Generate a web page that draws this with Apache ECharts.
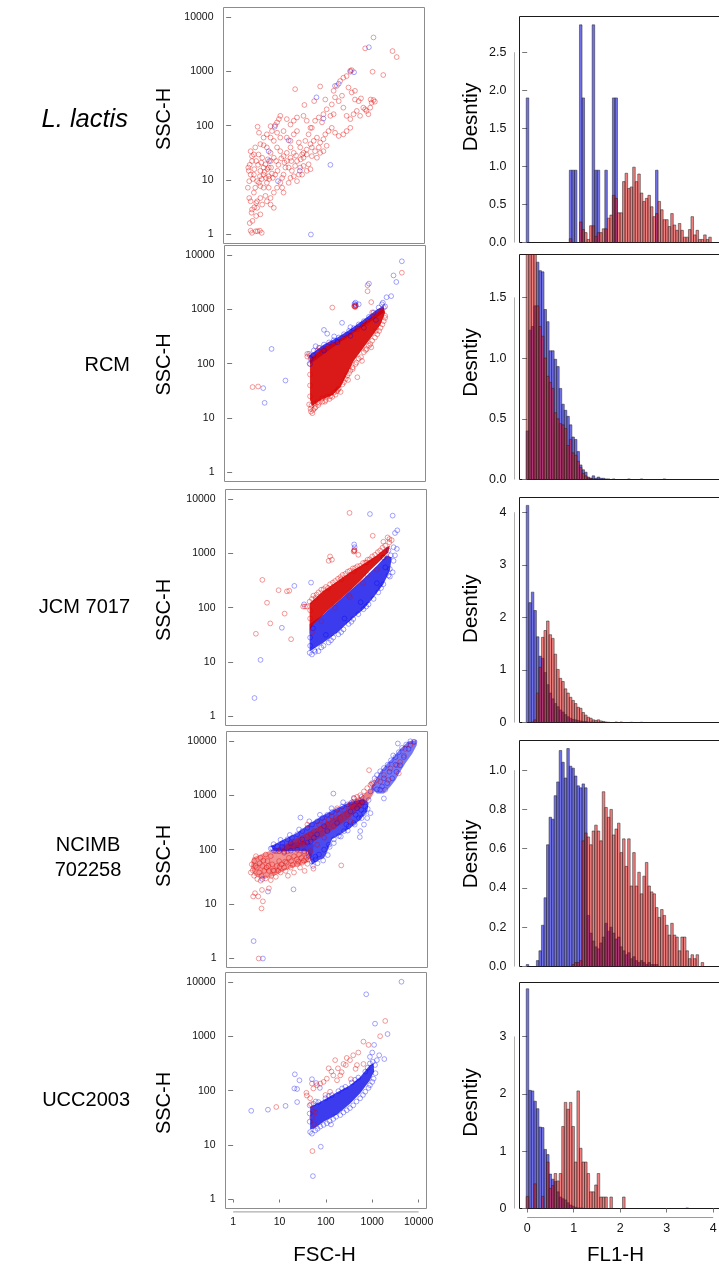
<!DOCTYPE html>
<html>
<head>
<meta charset="utf-8">
<title>FSC/SSC scatter and FL1-H density</title>
<script src="https://cdn.jsdelivr.net/npm/echarts@6/dist/echarts.min.js"></script>
<style>
  html, body { margin: 0; padding: 0; background: #fff; }
  #chart { width: 719px; height: 1273px; }
</style>
</head>
<body>
<div id="chart"></div>
<script>
// ---- data: scatter points are [log10 FSC-H, log10 SSC-H] ----
const decadeTicks = [0, 1, 2, 3, 4];
const flTicks = [0, 1, 2, 3, 4];

const lactisRed = [[0.42,0.07],[0.45,0.03],[0.53,0.06],[0.57,0.06],[0.62,0.07],[0.66,0.03],[0.40,0.21],[0.46,0.25],[0.44,0.40],[0.50,0.50],[0.54,0.58],[0.39,0.67],[0.36,0.86],[0.39,0.98],[0.42,1.10],[0.37,1.23],[0.40,1.28],[0.42,1.53],[0.45,1.44],[0.50,1.20],[0.54,1.35],[0.59,1.47],[0.57,1.98],[0.60,1.87],[0.52,1.60],[0.70,1.64],[0.77,1.60],[0.67,1.41],[0.74,1.29],[0.79,1.38],[0.85,1.50],[0.86,1.23],[0.92,1.41],[0.97,1.35],[1.00,1.17],[0.95,1.10],[0.90,1.04],[0.81,1.07],[0.70,1.10],[0.63,1.17],[0.56,0.98],[0.63,0.89],[0.70,0.86],[0.77,0.95],[0.81,0.86],[0.74,0.71],[0.63,0.67],[0.56,0.61],[0.67,0.55],[0.85,0.67],[0.92,0.77],[0.99,0.86],[1.06,0.95],[1.10,1.04],[1.13,1.10],[1.17,1.23],[1.20,1.35],[1.13,1.44],[1.06,1.53],[0.99,1.60],[0.92,1.72],[0.85,1.78],[0.88,1.90],[0.95,2.01],[1.03,2.12],[1.06,2.18],[1.13,1.90],[1.20,1.78],[1.28,1.72],[1.35,1.84],[1.42,1.90],[1.46,1.69],[1.49,1.60],[1.53,1.47],[1.56,1.41],[1.35,1.50],[1.28,1.41],[1.24,1.23],[1.31,1.17],[1.38,1.26],[1.42,1.35],[1.49,1.23],[1.46,1.10],[1.35,1.07],[1.56,1.50],[1.63,1.56],[1.71,1.66],[1.78,1.72],[1.85,1.78],[1.92,1.69],[1.89,1.60],[1.81,1.53],[1.74,1.44],[1.67,1.29],[1.63,1.47],[1.60,1.72],[1.67,1.84],[1.74,1.96],[1.81,2.09],[1.89,2.15],[1.96,2.06],[1.99,2.21],[2.06,2.30],[2.14,2.18],[2.21,2.21],[2.17,2.39],[2.24,2.52],[2.21,2.64],[2.28,2.73],[2.35,2.82],[2.42,2.88],[2.49,2.91],[2.57,3.01],[2.60,3.02],[2.53,2.70],[2.39,2.55],[2.32,2.45],[2.42,2.33],[2.49,2.18],[2.57,2.12],[2.64,2.21],[2.71,2.27],[2.75,2.45],[2.67,2.48],[2.60,2.61],[2.67,2.64],[2.80,2.50],[2.85,2.33],[2.92,2.27],[2.96,2.21],[3.00,2.33],[3.03,2.42],[3.07,2.47],[3.10,2.44],[3.01,2.48],[2.89,2.30],[2.78,2.18],[2.57,1.96],[2.49,1.90],[2.42,1.84],[2.32,1.81],[2.24,1.87],[2.17,1.96],[2.10,1.90],[2.03,1.84],[1.99,1.75],[2.06,1.63],[1.99,1.53],[1.92,1.50],[1.85,1.41],[1.71,1.96],[1.63,2.09],[1.56,2.18],[1.42,2.15],[1.35,2.09],[1.38,2.67],[1.58,2.38],[1.92,2.72],[1.79,2.45],[2.03,2.48],[3.28,2.93],[3.05,2.99],[2.89,3.42],[3.07,3.62],[3.48,3.37],[3.57,3.26],[1.20,2.12],[1.28,2.02],[0.99,1.87],[1.06,1.78],[0.77,1.84],[0.70,1.78],[0.63,1.66],[0.49,1.47],[0.45,1.35],[0.38,1.17],[0.49,1.10],[0.52,0.86],[0.49,0.77],[0.42,0.61],[0.45,0.46],[0.56,0.49],[0.63,0.37],[0.54,0.34],[0.77,0.61],[0.85,0.55],[0.92,0.49],[1.10,0.86],[1.13,0.77],[1.24,0.95],[1.28,1.04],[1.42,0.98],[1.53,1.10],[1.63,1.17],[1.56,1.26],[1.71,1.20],[1.74,1.60],[0.85,1.99],[0.99,2.06],[1.28,1.60],[1.20,1.50],[0.81,1.23],[0.85,1.35],[0.70,1.23],[0.62,1.07],[0.75,1.04],[0.72,1.15],[0.78,1.20],[0.88,1.12],[0.66,1.02],[0.60,0.95],[0.82,1.02],[1.02,1.28],[1.08,1.40],[1.15,1.32],[1.30,1.35],[1.40,1.45],[1.50,1.38],[0.58,1.28],[0.65,1.32],[0.47,1.02]];
const lactisBlue = [[2.97,3.44],[2.65,2.98],[2.57,2.99],[2.24,2.73],[2.32,2.77],[1.84,2.52],[1.99,2.13],[0.94,1.98],[0.81,1.53],[1.24,1.73],[1.48,1.17],[2.14,1.28],[1.72,0.0],[0.82,1.35],[1.01,0.98]];

const rcmBlueCore = [[1.66,2.15],[1.98,2.35],[2.27,2.48],[2.55,2.63],[2.84,2.81],[3.13,3.00],[3.27,3.06],[3.27,2.94],[2.84,2.69],[2.27,2.36],[1.68,1.99]];
const rcmRedCore = [[1.68,2.09],[1.98,2.30],[2.27,2.42],[2.55,2.57],[2.84,2.75],[3.13,2.94],[3.27,3.03],[3.30,2.94],[3.20,2.72],[3.05,2.54],[2.84,2.30],[2.62,2.05],[2.48,1.81],[2.34,1.57],[2.16,1.42],[1.91,1.33],[1.73,1.22],[1.68,1.33]];
const rcmRed = [[0.44,1.57],[0.56,1.58],[2.16,3.03],[1.62,2.13],[1.62,2.18],[2.92,3.44],[2.92,3.33],[3.00,3.13],[3.66,3.67],[1.89,2.29],[3.27,3.03],[3.30,2.88],[3.20,2.97],[3.02,2.94],[1.73,1.09],[1.69,1.17],[1.76,1.26],[1.84,1.29],[1.94,1.36],[2.05,1.39],[2.23,1.43],[2.16,1.39],[2.30,1.54],[2.41,1.66],[2.48,1.78],[2.55,1.87],[2.66,1.99],[2.73,2.09],[2.84,2.21],[2.95,2.33],[3.02,2.42],[3.13,2.54],[3.20,2.66],[3.27,2.78],[2.70,1.75],[2.34,1.48],[1.71,1.23],[1.68,2.15],[1.84,2.24],[2.12,2.36],[2.41,2.48],[2.70,2.63],[2.91,2.75],[3.13,2.91],[2.64,3.05],[2.66,3.06],[2.65,3.04],[2.63,3.06],[2.66,3.05],[1.75,1.15],[1.80,1.20],[2.00,1.30],[2.10,1.35],[2.60,1.93],[2.90,2.27],[3.10,2.60],[1.68,1.40],[1.68,1.60],[1.68,1.80],[1.67,2.00],[1.66,1.25],[1.70,1.12],[1.78,1.18],[1.86,1.24],[1.95,1.30],[2.02,1.33],[2.12,1.40],[2.20,1.47],[2.28,1.52],[2.38,1.62],[2.45,1.72],[2.52,1.82],[2.60,1.90],[2.68,2.02],[2.78,2.12],[2.88,2.25],[2.98,2.36],[3.08,2.48],[3.17,2.60],[3.24,2.72],[3.30,2.84],[1.88,1.28],[2.26,1.49],[2.50,1.70],[2.80,2.05],[3.00,2.30]];
const rcmBlue = [[0.85,2.27],[1.15,1.69],[0.67,1.55],[0.70,1.28],[3.66,3.88],[3.48,3.62],[3.54,3.50],[2.95,3.47],[2.66,3.12],[2.73,3.09],[3.33,3.22],[3.43,3.24],[3.25,3.12],[2.37,2.75],[1.98,2.62],[2.05,2.55],[2.55,2.67],[1.66,2.18],[1.76,2.24],[1.87,2.29],[1.98,2.35],[2.09,2.39],[2.19,2.43],[2.30,2.48],[2.41,2.54],[2.52,2.60],[2.62,2.65],[2.73,2.72],[2.84,2.78],[2.95,2.86],[3.05,2.94],[3.16,3.03],[3.23,3.09],[1.69,2.09],[1.68,1.99],[1.75,2.15],[1.98,2.24],[2.27,2.39],[2.55,2.51],[2.84,2.66],[2.65,3.08],[2.64,3.10],[2.67,3.07],[3.30,3.05],[3.10,2.80],[2.20,2.50],[1.80,2.32]];

const jcmBlueCore = [[1.65,1.70],[1.95,1.88],[2.24,2.10],[2.52,2.31],[2.81,2.53],[3.10,2.77],[3.31,2.96],[3.42,2.92],[3.38,2.68],[3.24,2.43],[3.03,2.19],[2.81,1.97],[2.52,1.76],[2.24,1.54],[1.95,1.36],[1.73,1.24],[1.65,1.20]];
const jcmRedCore = [[1.65,2.08],[1.95,2.31],[2.24,2.48],[2.52,2.65],[2.81,2.80],[3.10,2.96],[3.31,3.11],[3.38,3.14],[3.35,3.02],[3.17,2.86],[2.95,2.68],[2.74,2.49],[2.52,2.31],[2.24,2.10],[1.95,1.88],[1.73,1.70],[1.65,1.57]];
const jcmRed = [[2.51,3.74],[3.01,3.32],[0.63,2.51],[0.73,2.09],[0.98,2.32],[1.16,2.30],[1.21,2.31],[1.11,1.89],[0.80,1.71],[0.49,1.52],[1.25,1.42],[2.09,2.94],[2.13,2.88],[2.06,2.86],[1.51,2.02],[1.55,2.02],[3.24,3.21],[3.33,3.29],[3.37,3.26],[2.70,2.97],[1.59,2.02],[1.65,2.11],[1.73,2.22],[1.84,2.28],[1.95,2.34],[2.09,2.43],[2.20,2.49],[2.31,2.56],[2.42,2.62],[2.52,2.68],[2.63,2.73],[2.74,2.77],[2.85,2.83],[2.95,2.89],[3.06,2.97],[3.17,3.05],[3.28,3.14],[3.37,3.20],[3.42,3.24],[2.52,2.19],[2.61,3.04],[2.62,3.05],[2.60,3.03],[2.61,3.06],[1.66,1.80],[1.66,1.95],[1.70,1.55],[1.90,1.75],[2.20,2.00],[2.50,2.22],[2.80,2.45],[3.10,2.70],[3.30,2.95],[2.90,2.60],[1.70,2.16],[1.80,2.24],[1.90,2.33],[2.00,2.38],[2.15,2.46],[2.26,2.53],[2.36,2.60],[2.47,2.66],[2.58,2.72],[2.68,2.76],[2.80,2.82],[2.90,2.88],[3.00,2.94],[3.12,3.02],[3.22,3.10],[1.78,2.18],[2.05,2.36],[2.33,2.52],[2.60,2.67],[2.88,2.83]];
const jcmBlue = [[2.95,3.72],[3.44,3.69],[3.54,3.42],[3.49,3.37],[3.46,3.11],[3.38,2.57],[2.61,3.16],[2.62,3.11],[1.32,2.40],[1.68,2.46],[1.53,2.06],[1.05,1.63],[0.59,1.04],[0.46,0.34],[1.65,1.17],[1.70,1.14],[1.77,1.19],[1.84,1.20],[1.95,1.30],[2.06,1.36],[2.16,1.45],[2.27,1.51],[2.38,1.60],[2.49,1.70],[2.59,1.79],[2.70,1.88],[2.81,1.97],[2.92,2.06],[3.03,2.16],[3.13,2.28],[3.24,2.43],[3.35,2.59],[3.38,2.71],[3.46,2.86],[3.49,2.96],[3.53,3.08],[3.40,2.96],[3.24,2.92],[3.35,3.05],[3.28,2.74],[3.44,2.65],[1.66,1.30],[1.66,1.45],[1.72,1.62],[2.00,1.50],[2.40,1.80],[2.75,2.10],[3.10,2.45],[1.75,1.22],[1.90,1.27],[2.11,1.40],[2.33,1.55],[2.55,1.74],[2.87,2.02],[3.19,2.36]];

const ncimbRedLowCore = [[0.39,1.85],[0.65,1.94],[0.93,2.03],[1.22,2.12],[1.51,2.15],[1.72,2.09],[1.68,1.88],[1.58,1.76],[1.36,1.70],[1.08,1.61],[0.86,1.52],[0.65,1.46],[0.44,1.52],[0.36,1.67]];
const ncimbBlueCore = [[0.79,2.06],[1.08,2.19],[1.36,2.31],[1.65,2.49],[1.94,2.64],[2.22,2.76],[2.51,2.88],[2.80,2.93],[2.90,2.85],[2.87,2.70],[2.72,2.55],[2.51,2.40],[2.29,2.28],[2.11,2.19],[2.01,1.97],[1.94,1.85],[1.79,1.79],[1.68,1.73],[1.63,1.85],[1.58,1.97],[1.36,1.98],[1.08,1.97],[0.86,1.97]];
const ncimbRedMidCore = [[1.08,2.09],[1.43,2.25],[1.79,2.40],[2.22,2.61],[2.58,2.82],[2.80,2.91],[2.76,2.79],[2.44,2.55],[2.08,2.34],[1.72,2.15],[1.36,2.03],[1.08,1.97]];
const ncimbRedPatchCore = [[2.44,2.79],[2.65,2.91],[2.87,3.07],[3.00,3.16],[3.03,3.07],[2.94,2.94],[2.80,2.82],[2.58,2.73]];
const ncimbBlueTopCore = [[2.95,3.13],[3.05,3.28],[3.15,3.43],[3.30,3.58],[3.44,3.70],[3.58,3.85],[3.76,3.99],[3.93,4.01],[3.94,3.92],[3.84,3.76],[3.69,3.58],[3.58,3.43],[3.48,3.28],[3.37,3.16],[3.23,3.03],[3.08,3.03]];
const ncimbRed = [[0.38,1.73],[0.43,1.79],[0.49,1.67],[0.54,1.58],[0.59,1.52],[0.65,1.61],[0.70,1.67],[0.75,1.61],[0.80,1.52],[0.86,1.61],[0.92,1.70],[0.97,1.79],[1.02,1.73],[1.08,1.67],[1.13,1.76],[1.18,1.85],[1.23,1.79],[1.29,1.88],[1.35,1.82],[1.40,1.91],[1.45,1.85],[1.51,1.94],[1.56,1.85],[1.61,1.94],[0.43,1.52],[0.50,1.46],[0.57,1.43],[0.68,1.47],[0.79,1.44],[0.90,1.50],[1.00,1.58],[1.11,1.61],[1.22,1.67],[1.36,1.73],[1.47,1.76],[1.58,1.74],[0.36,1.58],[0.47,1.88],[0.57,1.85],[0.68,1.91],[0.79,1.88],[0.90,1.97],[1.00,2.00],[1.08,1.94],[0.72,1.79],[0.82,1.73],[0.61,1.70],[0.95,1.61],[1.16,1.52],[1.29,1.58],[1.42,1.67],[1.52,1.61],[0.41,1.14],[0.52,1.14],[0.59,0.92],[0.75,1.29],[0.53,0.0],[2.31,1.71],[1.71,1.65],[2.91,3.46],[0.45,1.20],[0.62,1.05],[0.60,1.26],[1.22,2.09],[1.43,2.15],[1.58,2.25],[1.72,2.34],[1.83,2.46],[1.94,2.52],[2.04,2.55],[2.11,2.61],[2.19,2.58],[2.26,2.67],[2.37,2.73],[2.47,2.79],[2.58,2.88],[2.65,2.97],[2.72,3.00],[2.80,3.07],[2.87,3.13],[2.94,3.19],[3.01,3.22],[2.59,2.94],[2.69,2.91],[2.51,2.85],[1.65,1.97],[1.79,2.09],[1.94,2.22],[1.51,2.09],[1.36,2.03],[1.58,2.46],[1.65,2.28],[1.86,2.37],[2.01,2.46],[2.15,2.43],[2.29,2.58],[2.44,2.64],[1.36,2.12],[1.15,1.97],[2.51,2.52],[2.22,2.76],[3.23,3.37],[3.37,3.49],[3.51,3.55],[3.66,3.73],[3.80,3.92],[3.87,3.98],[3.58,3.61],[3.33,3.28],[3.15,3.25],[3.26,3.10],[3.55,3.40],[3.69,3.85],[3.08,3.28],[2.98,3.20],[0.40,1.62],[0.46,1.70],[0.55,1.75],[0.63,1.80],[0.74,1.70],[0.84,1.62],[0.98,1.68],[1.10,1.78],[1.26,1.72],[1.38,1.78],[1.50,1.80],[1.60,1.82]];
const ncimbBlue = [[0.82,2.03],[0.93,2.06],[1.04,2.12],[1.15,2.19],[1.25,2.22],[1.36,2.28],[1.47,2.34],[1.58,2.40],[1.68,2.46],[1.79,2.52],[1.90,2.58],[2.01,2.64],[2.11,2.69],[2.22,2.73],[2.33,2.79],[2.44,2.83],[2.54,2.87],[2.65,2.88],[2.76,2.87],[2.83,2.79],[2.80,2.67],[2.69,2.58],[2.58,2.49],[2.47,2.43],[2.37,2.34],[2.26,2.25],[2.15,2.19],[2.04,2.09],[1.94,2.00],[1.83,1.91],[1.76,1.82],[1.68,1.78],[1.61,1.88],[1.51,1.97],[1.36,2.00],[1.22,1.98],[1.08,1.96],[0.97,1.97],[0.86,1.98],[0.79,2.02],[2.51,2.70],[1.79,2.28],[2.22,2.49],[2.65,2.76],[1.65,2.15],[2.01,2.34],[1.94,2.43],[1.72,2.22],[1.47,2.19],[1.22,2.12],[1.04,2.05],[1.58,2.13],[2.42,2.46],[2.62,2.64],[2.74,2.73],[2.90,2.91],[2.94,3.07],[2.80,2.46],[2.87,2.58],[2.94,2.67],[2.72,2.34],[2.97,3.22],[3.03,3.31],[3.08,3.37],[3.15,3.44],[3.23,3.50],[3.31,3.56],[3.38,3.64],[3.48,3.70],[3.55,3.79],[3.62,3.87],[3.71,3.93],[3.80,3.99],[3.89,3.98],[3.76,3.85],[3.66,3.70],[3.58,3.55],[3.50,3.43],[3.41,3.31],[3.30,3.22],[3.19,3.16],[3.08,3.11],[3.23,3.31],[3.35,3.43],[3.48,3.56],[3.15,3.10],[3.43,3.73],[3.53,3.95],[3.23,2.94],[0.42,0.32],[0.62,0.0],[0.73,1.23],[1.28,1.27],[2.14,3.03],[2.71,2.23],[1.43,2.59],[0.61,1.46],[1.75,1.87],[1.70,1.70],[1.80,1.75],[1.92,1.80],[2.02,1.90],[2.06,2.05],[2.15,2.12],[2.30,2.24],[2.45,2.35],[2.60,2.46],[2.75,2.58],[2.88,2.75],[0.85,2.10],[1.00,2.18],[1.20,2.27],[1.40,2.37],[1.62,2.52],[1.85,2.64],[2.10,2.76],[2.35,2.87],[2.58,2.95],[2.75,2.97]];

const uccBlueCore = [[1.66,1.70],[1.95,1.83],[2.24,1.97],[2.52,2.10],[2.74,2.25],[2.95,2.47],[3.03,2.50],[3.04,2.35],[2.95,2.19],[2.74,1.95],[2.52,1.76],[2.24,1.56],[1.95,1.43],[1.73,1.30],[1.66,1.29]];
const uccBlue = [[1.65,1.73],[1.73,1.76],[1.84,1.79],[1.99,1.86],[2.13,1.92],[2.27,1.99],[2.42,2.07],[2.56,2.15],[2.70,2.24],[2.85,2.35],[2.95,2.50],[3.01,2.53],[3.06,2.47],[1.66,1.24],[1.77,1.27],[1.88,1.34],[2.02,1.40],[2.16,1.48],[2.31,1.55],[2.45,1.64],[2.59,1.73],[2.74,1.86],[2.85,1.98],[2.95,2.10],[3.03,2.22],[1.65,1.43],[1.65,1.58],[3.63,4.00],[2.87,3.77],[3.06,3.23],[3.33,3.04],[3.04,2.84],[3.15,2.65],[3.26,2.58],[3.10,2.56],[1.33,2.30],[1.43,2.19],[1.38,2.03],[1.32,2.04],[0.39,1.63],[1.13,1.72],[1.72,0.43],[1.89,0.97],[2.11,1.38],[1.70,2.21],[1.79,2.14],[1.38,1.79],[1.87,2.05],[0.75,1.65],[2.95,2.62],[3.00,2.70],[1.70,1.21],[1.82,1.30],[1.95,1.37],[2.08,1.44],[2.22,1.52],[2.38,1.60],[2.52,1.68],[2.66,1.80],[2.80,1.92],[2.92,2.05],[3.00,2.16],[3.07,2.32],[1.78,1.80],[2.06,1.90],[2.35,2.04],[2.63,2.20],[2.90,2.42]];
const uccRed = [[0.93,1.70],[1.58,1.96],[1.71,0.89],[3.17,3.00],[3.28,3.28],[2.81,2.90],[2.92,2.84],[2.81,2.49],[2.67,2.47],[2.59,2.65],[2.52,2.56],[2.38,2.49],[2.43,2.47],[2.26,2.41],[2.31,2.28],[2.34,2.34],[2.16,2.28],[2.06,2.41],[2.02,2.22],[1.95,2.16],[1.88,2.13],[1.81,2.10],[1.70,2.13],[1.73,2.04],[1.59,1.91],[1.66,1.86],[1.72,1.62],[1.77,1.60],[1.99,1.92],[2.09,1.98],[2.24,2.19],[2.54,2.21],[1.68,1.75],[1.70,1.50],[1.75,1.38],[2.20,2.56],[2.12,2.35],[2.45,2.60],[2.70,2.70],[2.64,2.40]];

// ---- histogram densities (FL1-H), bins start at BIN_START, width BIN_WIDTH ----
const BIN_START = -0.02;
const BIN_WIDTH = 0.0545;
const lactisHistBlue = [1.90,0,0,0,0,0,0,0,0,0, 0,0,0,0,0,0,0,0.95,0.95,0.95, 0,2.86,1.90,0,0,0,2.86,0.95,0.95,0, 0,0.95,0,0,1.90,1.90,0,0,0,0, 0,0,0,0,0,0,0,0,0,0, 0,0.95];
const lactisHistRed = [0,0,0,0,0,0,0,0,0,0, 0,0,0,0,0,0,0,0.05,0,0, 0,0.27,0.17,0.13,0.04,0.22,0.22,0.08,0.13,0.13, 0.18,0.18,0.32,0.36,0.62,0.58,0.39,0.39,0.80,0.91, 0.71,0.73,0.99,0.80,0.90,0.65,0.54,0.58,0.62,0.47, 0.34,0.38,0.54,0.43,0.30,0.30,0.21,0.38,0.23,0.16, 0.25,0.16,0.07,0.07,0.17,0.34,0.10,0.16,0.04,0.04, 0.10,0.04,0.07];
const rcmHistBlue = [0.40,1.23,1.26,1.43,1.79,1.72,1.71,1.40,1.30,1.06, 1.06,0.99,0.93,0.75,0.62,0.57,0.52,0.45,0.35,0.33, 0.23,0.12,0.08,0.06,0.02,0.01,0.03,0.01,0.02,0.01, 0.01,0.005,0.005,0,0.005,0,0,0,0,0, 0.005,0,0,0,0,0.005,0,0,0,0, 0,0,0,0,0.005];
const rcmHistRed = [2.2,2.4,2.3,2.0,1.43,1.26,1.18,1.00,0.85,0.80, 0.75,0.55,0.50,0.46,0.45,0.42,0.28,0.33,0.22,0.20, 0.15,0.10,0.05,0.03,0.01,0.01,0.005,0,0.005];
const jcmHistBlue = [4.13,2.28,2.48,2.13,1.63,1.26,1.22,0.95,0.72,0.56, 0.45,0.36,0.30,0.24,0.20,0.15,0.11,0.08,0.06,0.05, 0.04,0.03,0.02,0.02,0.01,0.01,0.01,0.005,0.005,0, 0.005,0,0,0,0,0,0,0,0,0, 0,0.005,0,0,0,0.005];
const jcmHistRed = [0,0,0.01,0.05,0.56,1.05,1.62,1.75,1.93,1.67, 1.60,1.30,1.01,0.84,0.78,0.64,0.56,0.48,0.42,0.36, 0.29,0.27,0.19,0.14,0.10,0.08,0.05,0.04,0.05,0.03, 0.02,0.01,0.005,0,0,0.01,0,0.01];
const ncimbHistBlue = [0.01,0,0,0, 0.03,0.08,0.21,0.35,0.62,0.76,0.75,0.87,0.94,1.10,1.04,0.96,1.11,1.02,1.01,0.97,0.92,0.91,0.93,0.91, 0.26,0.17,0.13,0.10,0.09,0.12,0.15,0.22,0.18,0.20,0.17,0.14,0.15,0.10,0.08,0.06,0.07,0.04,0.05,0.03,0.02,0.03,0.02,0.01,0.02,0.01,0.01,0.01];
const ncimbHistRed = [0,0,0,0,0,0,0,0,0,0, 0,0,0,0,0,0,0,0, 0.01,0.02,0.02,0.03, 0.64,0.68,0.66,0.62,0.69,0.72,0.69,0.64,0.89,0.81, 0.76,0.80,0.67,0.70,0.73,0.58,0.65,0.51,0.65,0.41, 0.58,0.41,0.48,0.37,0.46,0.53,0.41,0.38,0.37,0.30, 0.25,0.29,0.26,0.21,0.16,0.22,0.16,0.15,0.08,0.15, 0.15,0.08,0.04,0.06,0.04,0.06,0,0.02];
const uccHistBlue = [3.83,2.06,2.05,1.87,1.74,1.42,1.41,1.03,0.94,0.60, 0.51,0.47,0.29,0.20,0.17,0.15,0.10,0.06,0.04,0.02, 0.01,0.01,0.005,0,0,0,0,0,0,0, 0,0,0,0,0,0,0,0,0,0, 0,0,0,0,0,0,0,0,0,0, 0,0,0,0,0,0,0,0,0,0, 0,0,0,0.01];
const uccHistRed = [0.21,0,0,0.43,0,0,0.21,0,0.81,0.35, 0.40,0.61,0.48,0.61,1.43,1.85,1.73,1.85,1.43,0.81, 2.05,1.05,0.81,0.81,0.61,0.29,0.29,0.41,0.61,0.20, 0.20,0.20,0,0.20,0,0,0,0,0.20];

const rowLabels = ['L. lactis', 'RCM', 'JCM 7017', 'NCIMB\n702258', 'UCC2003'];
const lactisHistTicks = [0, 0.5, 1, 1.5, 2, 2.5];
const rcmHistTicks = [0, 0.5, 1, 1.5];
const jcmHistTicks = [0, 1, 2, 3, 4];
const ncimbHistTicks = [0, 0.2, 0.4, 0.6, 0.8, 1.0];
const uccHistTicks = [0, 1, 2, 3];

// ---- layout ----
const FONT = '"Liberation Sans", Arial, Helvetica, sans-serif';
const RED_PT = 'rgba(228,0,0,0.55)';
const BLUE_PT = 'rgba(0,0,255,0.5)';
const RED_CORE = 'rgba(214,0,0,0.9)';
const BLUE_CORE = 'rgba(28,28,235,0.86)';
const RED_BAR = 'rgba(232,0,0,0.5)';
const BLUE_BAR = 'rgba(0,0,215,0.56)';
const LOG_MIN = -0.165, LOG_MAX = 4.17;
const FL_MIN = -0.165, FL_MAX = 4.157;

const panels = [
  { label: rowLabels[0], italic: true, red: lactisRed, blue: lactisBlue, cores: [],
    hBlue: lactisHistBlue, hRed: lactisHistRed, hTicks: lactisHistTicks, dec: 1,
    sBox: [223.5, 7.5], hBox: [16.5, 226, 2.97], labelX: 128, labelY: 120, sscY: 119, denY: 117 },
  { label: rowLabels[1], red: rcmRed, blue: rcmBlue,
    cores: [[rcmBlueCore, BLUE_CORE], [rcmRedCore, RED_CORE]],
    hBlue: rcmHistBlue, hRed: rcmHistRed, hTicks: rcmHistTicks, dec: 1,
    sBox: [224.5, 245.5], hBox: [254.5, 225, 1.853], labelX: 130, labelY: 365, sscY: 364.5, denY: 362.5 },
  { label: rowLabels[2], red: jcmRed, blue: jcmBlue,
    cores: [[jcmBlueCore, BLUE_CORE], [jcmRedCore, RED_CORE]],
    hBlue: jcmHistBlue, hRed: jcmHistRed, hTicks: jcmHistTicks, dec: 0,
    sBox: [225.5, 489.5], hBox: [497.5, 225, 4.28], labelX: 130, labelY: 607, sscY: 610, denY: 608.7 },
  { label: rowLabels[3], center: true, red: ncimbRed, blue: ncimbBlue,
    cores: [[ncimbRedLowCore, 'rgba(225,0,0,0.42)'], [ncimbBlueCore, 'rgba(30,30,235,0.8)'],
            [ncimbRedMidCore, 'rgba(215,0,0,0.45)'], [ncimbRedPatchCore, 'rgba(220,0,0,0.5)'],
            [ncimbBlueTopCore, 'rgba(30,30,235,0.6)']],
    hBlue: ncimbHistBlue, hRed: ncimbHistRed, hTicks: ncimbHistTicks, dec: 1,
    sBox: [226.5, 731.5], hBox: [740.5, 226, 1.151], labelX: 88, labelY: 857.5, sscY: 856, denY: 854 },
  { label: rowLabels[4], red: uccRed, blue: uccBlue,
    cores: [[uccBlueCore, BLUE_CORE]],
    hBlue: uccHistBlue, hRed: uccHistRed, hTicks: uccHistTicks, dec: 0,
    sBox: [225.5, 972.5], hBox: [982.5, 226, 3.94], labelX: 130, labelY: 1100, sscY: 1103, denY: 1102.5 }
];

function polyItem(pts, fill) {
  return function (params, api) {
    return { type: 'polygon', shape: { points: pts.map(p => api.coord(p)) }, style: { fill: fill } };
  };
}

function barItem(fill) {
  return function (params, api) {
    const x0 = api.value(0), v = api.value(1);
    const a = api.coord([x0, v]);
    const b = api.coord([x0 + BIN_WIDTH, 0]);
    return {
      type: 'rect',
      shape: { x: a[0], y: a[1], width: b[0] - a[0], height: b[1] - a[1] },
      style: { fill: fill, stroke: 'rgba(40,40,40,0.75)', lineWidth: 0.7 }
    };
  };
}

function binData(values) {
  const out = [];
  values.forEach((v, k) => { if (v > 0) out.push([BIN_START + k * BIN_WIDTH, v]); });
  return out;
}

// R-style axis line spanning only the tick range
function axisLineItem(dim, from, to, base, offset, color) {
  return function (params, api) {
    let a, b;
    if (dim === 'x') {
      a = api.coord([from, base]); b = api.coord([to, base]);
      return { type: 'line', shape: { x1: a[0], y1: a[1] + offset, x2: b[0], y2: b[1] + offset },
               style: { stroke: color, lineWidth: 1 } };
    }
    a = api.coord([base, from]); b = api.coord([base, to]);
    return { type: 'line', shape: { x1: a[0] - offset, y1: a[1], x2: b[0] - offset, y2: b[1] },
             style: { stroke: color, lineWidth: 1 } };
  };
}

const grids = [], xAxes = [], yAxes = [], series = [], graphics = [];

panels.forEach((p, i) => {
  const last = i === panels.length - 1;
  const gs = grids.length;
  // scatter panel
  grids.push({ left: p.sBox[0], top: p.sBox[1], width: 201, height: 236, show: true,
    borderColor: '#8c8c8c', borderWidth: 1, backgroundColor: 'transparent', containLabel: false, outerBoundsMode: 'none' });
  xAxes.push({ gridIndex: gs, type: 'value', min: LOG_MIN, max: LOG_MAX, offset: 3.4,
    axisLine: { show: false }, splitLine: { show: false },
    axisTick: { show: last, customValues: decadeTicks, length: 3, lineStyle: { color: '#777' } },
    axisLabel: { show: last, customValues: decadeTicks, margin: 5, fontSize: 10.5, color: '#111', fontFamily: FONT,
      formatter: v => String(Math.round(Math.pow(10, v))) } });
  yAxes.push({ gridIndex: gs, type: 'value', min: LOG_MIN, max: LOG_MAX, offset: 2,
    axisLine: { show: false }, splitLine: { show: false },
    axisTick: { show: true, customValues: decadeTicks, length: 5, lineStyle: { color: '#777' } },
    axisLabel: { show: true, customValues: decadeTicks, margin: 8, fontSize: 10.5, color: '#111', fontFamily: FONT,
      formatter: v => String(Math.round(Math.pow(10, v))) } });

  p.cores.forEach(c => {
    series.push({ type: 'custom', xAxisIndex: gs, yAxisIndex: gs, data: [c[0][0]], clip: true,
      silent: true, renderItem: polyItem(c[0], c[1]) });
  });
  series.push({ type: 'scatter', xAxisIndex: gs, yAxisIndex: gs, data: p.blue, symbol: 'circle', symbolSize: 4.8,
    itemStyle: { color: 'rgba(0,0,0,0)', borderColor: BLUE_PT, borderWidth: 0.9 }, silent: true });
  series.push({ type: 'scatter', xAxisIndex: gs, yAxisIndex: gs, data: p.red, symbol: 'circle', symbolSize: 4.8,
    itemStyle: { color: 'rgba(0,0,0,0)', borderColor: RED_PT, borderWidth: 0.9 }, silent: true });
  if (last) {
    series.push({ type: 'custom', xAxisIndex: gs, yAxisIndex: gs, data: [[0, LOG_MIN]], clip: false, silent: true,
      renderItem: axisLineItem('x', 0, 4, LOG_MIN, 3.4, '#9a9a9a') });
  }

  // histogram panel
  const gh = grids.length;
  const hMax = p.hBox[2];
  grids.push({ left: 519.5, top: p.hBox[0], width: 201, height: p.hBox[1], show: true,
    borderColor: '#1a1a1a', borderWidth: 1, backgroundColor: 'transparent', containLabel: false, outerBoundsMode: 'none' });
  xAxes.push({ gridIndex: gh, type: 'value', min: FL_MIN, max: FL_MAX, offset: 9,
    axisLine: { show: false }, splitLine: { show: false },
    axisTick: { show: last, customValues: flTicks, length: 4, lineStyle: { color: '#777' } },
    axisLabel: { show: last, customValues: flTicks, margin: 5, fontSize: 12.5, color: '#111', fontFamily: FONT } });
  yAxes.push({ gridIndex: gh, type: 'value', min: 0, max: hMax, offset: 5,
    axisLine: { show: false }, splitLine: { show: false },
    axisTick: { show: true, customValues: p.hTicks, length: 5, lineStyle: { color: '#777' } },
    axisLabel: { show: true, customValues: p.hTicks, margin: 8, fontSize: 12.5, color: '#111', fontFamily: FONT,
      formatter: v => v.toFixed(p.dec) } });
  series.push({ type: 'custom', xAxisIndex: gh, yAxisIndex: gh, data: binData(p.hBlue), clip: true, silent: true,
    renderItem: barItem(BLUE_BAR) });
  series.push({ type: 'custom', xAxisIndex: gh, yAxisIndex: gh, data: binData(p.hRed), clip: true, silent: true,
    renderItem: barItem(RED_BAR) });
  series.push({ type: 'custom', xAxisIndex: gh, yAxisIndex: gh, data: [[FL_MIN, 0]], clip: false, silent: true,
    renderItem: axisLineItem('y', 0, p.hTicks[p.hTicks.length - 1], FL_MIN, 5, '#b0b0b0') });
  if (last) {
    series.push({ type: 'custom', xAxisIndex: gh, yAxisIndex: gh, data: [[0, 0]], clip: false, silent: true,
      renderItem: axisLineItem('x', 0, 4, 0, 9, '#9a9a9a') });
  }

  // texts
  graphics.push({ type: 'text', x: p.labelX, y: p.labelY, silent: true,
    style: { text: p.label, font: (p.italic ? 'italic 25.5px ' : '20px ') + FONT, fill: '#000',
      align: p.center ? 'center' : 'right', verticalAlign: 'middle',
      textAlign: p.center ? 'center' : 'right', textVerticalAlign: 'middle', lineHeight: 25 } });
  graphics.push({ type: 'text', x: 164, y: p.sscY, rotation: Math.PI / 2, silent: true,
    style: { text: 'SSC-H', font: '20px ' + FONT, fill: '#000', align: 'center', verticalAlign: 'middle',
      textAlign: 'center', textVerticalAlign: 'middle' } });
  graphics.push({ type: 'text', x: 471, y: p.denY, rotation: Math.PI / 2, silent: true,
    style: { text: 'Desntiy', font: '20.5px ' + FONT, fill: '#000', align: 'center', verticalAlign: 'middle',
      textAlign: 'center', textVerticalAlign: 'middle' } });
});

graphics.push({ type: 'text', x: 324.5, y: 1255, silent: true,
  style: { text: 'FSC-H', font: '20.5px ' + FONT, fill: '#000', align: 'center', verticalAlign: 'middle',
    textAlign: 'center', textVerticalAlign: 'middle' } });
graphics.push({ type: 'text', x: 615.5, y: 1255, silent: true,
  style: { text: 'FL1-H', font: '20.5px ' + FONT, fill: '#000', align: 'center', verticalAlign: 'middle',
    textAlign: 'center', textVerticalAlign: 'middle' } });

const chart = echarts.init(document.getElementById('chart'), null, { renderer: 'canvas' });
chart.setOption({
  backgroundColor: '#fff',
  animation: false,
  grid: grids,
  xAxis: xAxes,
  yAxis: yAxes,
  series: series,
  graphic: graphics
});
</script>
</body>
</html>
